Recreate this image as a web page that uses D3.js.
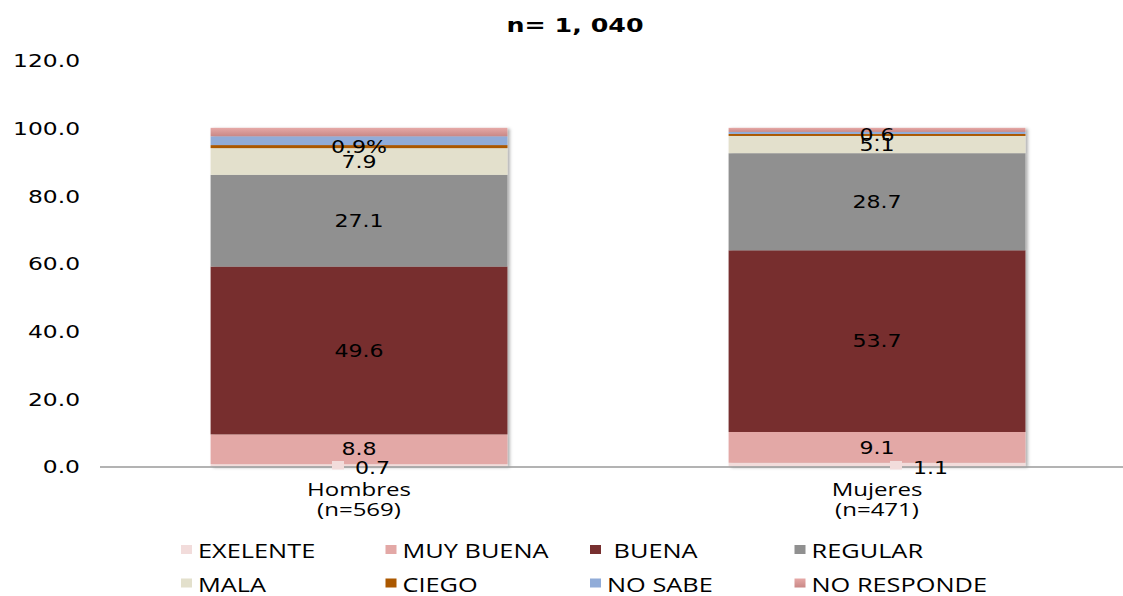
<!DOCTYPE html>
<html>
<head>
<meta charset="utf-8">
<script src="https://cdn.jsdelivr.net/npm/d3@7"></script>
<style>
  html, body { margin: 0; padding: 0; background: #fff; }
  svg { display: block; }
</style>
</head>
<body>
<svg id="chart" width="1123" height="596"></svg>
<script>
// Categories and sample sizes
const categories = ["Hombres", "Mujeres"];
const categorySizes = ["(n=569)", "(n=471)"];

// Series names (stack order, bottom to top)
const seriesNames = ["EXELENTE", "MUY BUENA", " BUENA", "REGULAR", "MALA", "CIEGO", "NO SABE", "NO RESPONDE"];

// Percentages per category
const exelente   = [0.7, 1.1];
const muyBuena   = [8.8, 9.1];
const buena      = [49.6, 53.7];
const regular    = [27.1, 28.7];
const mala       = [7.9, 5.1];
const ciego      = [0.9, 0.6];
const noSabe     = [2.6, 0.6];
const noResponde = [2.5, 1.2];

// Label suffix used on the CIEGO labels
const ciegoSuffix = ["%", ""];

// Y axis ticks
const yTicks = [0, 20, 40, 60, 80, 100, 120];

const title = "n= 1, 040";

// ---- styling ----
const colors = ["#f2dcdb", "#e3a8a6", "#772f2f", "#909090", "#e3e0cc", "#ab5800", "#91acd8", "url(#gradNR)"];
const SX = 1.3; // horizontal stretch applied to all text
const numFont = "'DejaVu Sans', Verdana, sans-serif";
const txtFont = "'Open Sans', 'Noto Sans', sans-serif";

const seriesValues = [exelente, muyBuena, buena, regular, mala, ciego, noSabe, noResponde];
const rows = categories.map((c, i) => {
  const r = { cat: c, idx: i };
  seriesNames.forEach((s, k) => r[s] = seriesValues[k][i]);
  return r;
});

const svg = d3.select("#chart");
const defs = svg.append("defs");
const grad = defs.append("linearGradient").attr("id", "gradNR")
  .attr("x1", 0).attr("y1", 0).attr("x2", 0).attr("y2", 1);
grad.append("stop").attr("offset", "0%").attr("stop-color", "#e6a9a7");
grad.append("stop").attr("offset", "100%").attr("stop-color", "#c98886");
const shadow = defs.append("filter").attr("id", "barShadow")
  .attr("x", "-5%").attr("y", "-5%").attr("width", "115%").attr("height", "115%");
shadow.append("feDropShadow").attr("dx", 2.5).attr("dy", 1).attr("stdDeviation", 1.6)
  .attr("flood-color", "#000").attr("flood-opacity", 0.3);

const x = d3.scaleBand().domain(categories).range([100, 1136])
  .paddingInner(0.427).paddingOuter(0.2135);
const y = d3.scaleLinear().domain([0, 120]).range([466.5, 60.5]);

function stretchText(parent, px, py, str, opts) {
  const t = parent.append("text")
    .attr("x", 0).attr("y", 0)
    .attr("transform", `translate(${px},${py}) scale(${SX},1)`)
    .attr("text-anchor", opts.anchor || "middle")
    .attr("font-family", opts.font)
    .attr("font-size", opts.size)
    .attr("font-weight", opts.weight || "normal")
    .attr("fill", opts.fill || "#000")
    .text(str);
  if (opts.dy) t.attr("dy", opts.dy);
  return t;
}

// Title
stretchText(svg, 575, 31.5, title, { font: numFont, size: 19.5, weight: "bold" });

// Y axis (labels only)
const yAxis = svg.append("g").attr("transform", "translate(100,0)")
  .call(d3.axisLeft(y).tickValues(yTicks).tickSize(0).tickFormat(d => d.toFixed(1)));
yAxis.select(".domain").remove();
yAxis.selectAll("text")
  .attr("x", -20 / SX).attr("dy", "0.36em")
  .attr("transform", `scale(${SX},1)`)
  .attr("font-family", numFont).attr("font-size", 18).attr("fill", "#000");

// Stacked bars
const stack = d3.stack().keys(seriesNames);
const layers = stack(rows);

const barGroups = svg.append("g").selectAll("g.bar")
  .data(categories).join("g").attr("class", "bar")
  .attr("filter", "url(#barShadow)");
barGroups.each(function(cat, ci) {
  d3.select(this).selectAll("rect")
    .data(layers.map((L, k) => ({ k, lo: L[ci][0], hi: L[ci][1] })))
    .join("rect")
    .attr("x", x(cat))
    .attr("width", x.bandwidth())
    .attr("y", d => y(d.hi))
    .attr("height", d => y(d.lo) - y(d.hi))
    .attr("fill", d => colors[d.k]);
});

// Baseline
svg.append("line")
  .attr("x1", 100).attr("x2", 1136)
  .attr("y1", y(0) + 0.5).attr("y2", y(0) + 0.5)
  .attr("stroke", "#9a9a9a").attr("stroke-width", 1.6);

// Data labels inside segments (MUY BUENA .. CIEGO)
const labelG = svg.append("g");
layers.forEach((L, k) => {
  if (k < 1 || k > 5) return;
  L.forEach((d, ci) => {
    const v = d[1] - d[0];
    const suffix = k === 5 ? ciegoSuffix[ci] : "";
    const cx = x(categories[ci]) + x.bandwidth() / 2;
    stretchText(labelG, cx, y((d[0] + d[1]) / 2), v.toFixed(1) + suffix,
      { font: numFont, size: 17, dy: "0.36em" });
  });
});

// EXELENTE labels: placed below the baseline with a legend key
const exOffsets = [-27, 13];
exelente.forEach((v, ci) => {
  const ax = x(categories[ci]) + x.bandwidth() / 2 + exOffsets[ci];
  const by = y(0);
  labelG.append("rect").attr("x", ax).attr("y", by - 5.5)
    .attr("width", 12).attr("height", 8.5).attr("fill", colors[0]);
  stretchText(labelG, ax + 23, by + 7, v.toFixed(1), { font: numFont, size: 17, anchor: "start" });
});

// Category labels
categories.forEach((c, ci) => {
  const cx = x(c) + x.bandwidth() / 2;
  stretchText(svg, cx, 496, c, { font: txtFont, size: 18.5 });
  stretchText(svg, cx, 515.5, categorySizes[ci], { font: txtFont, size: 18.5 });
});

// Legend: 4 columns x 2 rows
const legend = svg.append("g");
seriesNames.forEach((s, k) => {
  const col = k % 4, row = Math.floor(k / 4);
  const lx = 181 + col * 204.5;
  const ly = 545 + row * 33.5;
  legend.append("rect").attr("x", lx).attr("y", ly)
    .attr("width", 11).attr("height", 9).attr("fill", colors[k]);
  legend.append("text")
    .attr("x", 0).attr("y", 0)
    .attr("transform", `translate(${lx + 17},${ly + 13.3}) scale(${SX},1)`)
    .attr("font-family", txtFont).attr("font-size", 19.5)
    .attr("xml:space", "preserve").style("white-space", "pre")
    .attr("fill", "#000")
    .text(s);
});
</script>
</body>
</html>
